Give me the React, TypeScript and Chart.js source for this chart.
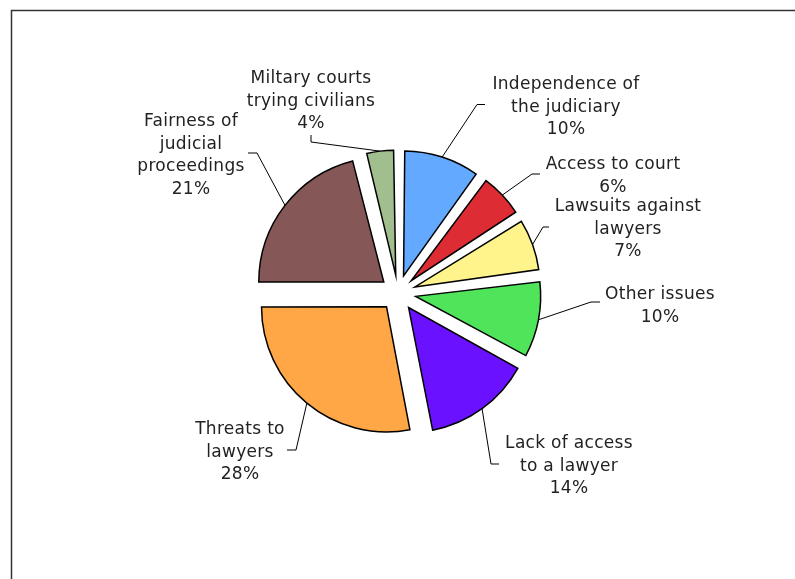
import React, { useEffect, useRef } from "react";
import { Chart, registerables } from "chart.js";

Chart.register(...registerables);

// ---- data ----
const categories = [
  "Independence of the judiciary",
  "Access to court",
  "Lawsuits against lawyers",
  "Other issues",
  "Lack of access to a lawyer",
  "Threats to lawyers",
  "Fairness of judicial proceedings",
  "Miltary courts trying civilians",
];
const values = [10, 6, 7, 10, 14, 28, 21, 4];
const labelLines = [
  ["Independence of", "the judiciary"],
  ["Access to court"],
  ["Lawsuits against", "lawyers"],
  ["Other issues"],
  ["Lack of access", "to a lawyer"],
  ["Threats to", "lawyers"],
  ["Fairness of", "judicial", "proceedings"],
  ["Miltary courts", "trying civilians"],
];

// ---- styles / layout ----
const sliceColors = [
  "#62A9FF",
  "#DE2C34",
  "#FFF48C",
  "#50E45A",
  "#6A12FF",
  "#FFA746",
  "#855757",
  "#A1BE8E",
];
const PIE_RADIUS = 125;
const EXPLODE = 18; // px translation of each slice
const labelLayout = [
  { x: 566, y: 89, from: [485, 104.5], elbow: [477, 104.5] },
  { x: 613, y: 169, from: [540, 174], elbow: [532, 174] },
  { x: 628, y: 211, from: [549, 227], elbow: [543, 227] },
  { x: 660, y: 299, from: [600, 302], elbow: [591, 302] },
  { x: 569, y: 448, from: [499, 464], elbow: [491, 464] },
  { x: 240, y: 434, from: [287, 450], elbow: [296, 450] },
  { x: 191, y: 126, from: [248, 153], elbow: [257, 153] },
  { x: 311, y: 83, from: [311, 135], elbow: [311, 142] },
];
const LINE_PITCH = 22.5;

// Keep every exploded slice at the same radius (Chart.js enlarges small
// slices when offset is used).
const equalRadiusPlugin = {
  id: "equalRadius",
  afterDatasetUpdate(chart: any, args: any) {
    const meta = chart.getDatasetMeta(args.index);
    meta.data.forEach((arc: any) => {
      const circ = arc.circumference;
      const fix = 1 - Math.sin(Math.min(Math.PI, circ || 0));
      arc.outerRadius = PIE_RADIUS - EXPLODE * fix;
    });
  },
};

const labelsPlugin = {
  id: "pieLabels",
  beforeDraw(chart: any) {
    const ctx = chart.ctx;
    ctx.save();
    ctx.fillStyle = "#ffffff";
    ctx.fillRect(0, 0, chart.width, chart.height);
    ctx.strokeStyle = "#333333";
    ctx.lineWidth = 1.5;
    ctx.strokeRect(11.5, 10.5, chart.width + 20, chart.height + 20);
    ctx.restore();
  },
  afterDatasetsDraw(chart: any) {
    const ctx = chart.ctx;
    const meta = chart.getDatasetMeta(0);
    ctx.save();
    meta.data.forEach((arc: any, i: number) => {
      const mid = (arc.startAngle + arc.endAngle) / 2;
      const r = PIE_RADIUS + EXPLODE;
      const px = arc.x + Math.cos(mid) * r;
      const py = arc.y + Math.sin(mid) * r;
      const lay = labelLayout[i];
      ctx.strokeStyle = "#000000";
      ctx.lineWidth = 1;
      ctx.beginPath();
      ctx.moveTo(lay.from[0], lay.from[1]);
      ctx.lineTo(lay.elbow[0], lay.elbow[1]);
      ctx.lineTo(px, py);
      ctx.stroke();

      ctx.fillStyle = "#222222";
      ctx.font = '17px "DejaVu Sans"';
      (ctx as any).letterSpacing = "0.3px";
      ctx.textAlign = "center";
      ctx.textBaseline = "alphabetic";
      const lines = [...labelLines[i], `${values[i]}%`];
      lines.forEach((t, k) => {
        ctx.fillText(t, lay.x, lay.y + k * LINE_PITCH);
      });
    });
    ctx.restore();
  },
};

export default function App() {
  const ref = useRef<HTMLCanvasElement | null>(null);
  useEffect(() => {
    if (!ref.current) return;
    const chart = new Chart(ref.current, {
      type: "pie",
      data: {
        labels: categories,
        datasets: [
          {
            data: values,
            backgroundColor: sliceColors,
            borderColor: "#000000",
            borderWidth: 1.5,
            borderJoinStyle: "miter",
            offset: EXPLODE * 4,
            hoverOffset: 0,
            radius: PIE_RADIUS,
          } as any,
        ],
      },
      options: {
        responsive: false,
        animation: false,
        events: [],
        layout: { padding: { left: 1, right: 0, top: 7, bottom: 0 } },
        plugins: {
          legend: { display: false },
          tooltip: { enabled: false },
          title: { display: false },
        },
      },
      plugins: [equalRadiusPlugin, labelsPlugin],
    });
    return () => chart.destroy();
  }, []);
  return (
    <div style={{ position: "fixed", left: 0, top: 0, width: 795, height: 579, background: "#fff" }}>
      <canvas ref={ref} width={795} height={579} style={{ display: "block" }} />
    </div>
  );
}
